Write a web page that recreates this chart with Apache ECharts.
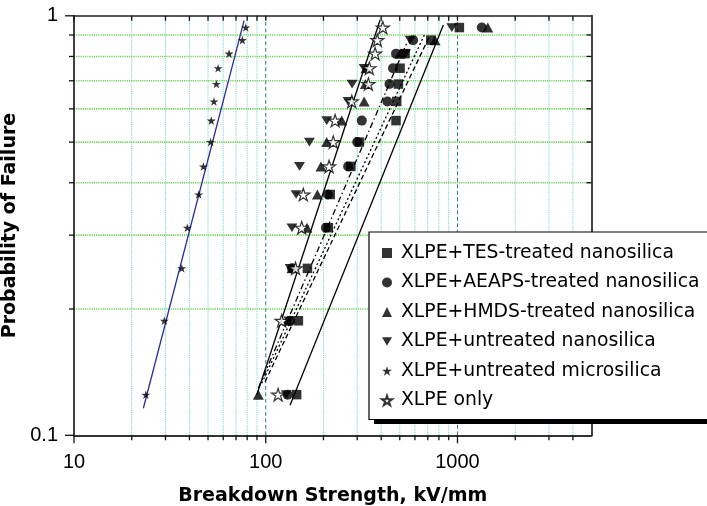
<!DOCTYPE html>
<html>
<head>
<meta charset="utf-8">
<script src="https://cdn.jsdelivr.net/npm/echarts@6/dist/echarts.min.js"></script>
<style>
  html, body { margin: 0; padding: 0; background: #fff; }
  #chart { width: 707px; height: 506px; }
</style>
</head>
<body>
<div id="chart"></div>
<script>
// Failure probability of each ranked specimen (rank / (n + 1), n = 15)
const failureProbability = [0.125, 0.1875, 0.25, 0.3125, 0.375, 0.4375, 0.5, 0.5625, 0.625, 0.6875, 0.75, 0.8125, 0.875, 0.9375];

// Breakdown strengths (kV/mm), sorted ascending, one per probability rank
const tesNanosilica       = [145, 148, 165, 212, 217, 278, 308, 478, 482, 492, 502, 533, 726, 1023];
const aeapsNanosilica     = [130, 134, 137, 206, 211, 269, 300, 317, 431, 442, 461, 478, 587, 1339];
const hmdsNanosilica      = [91.5, 130, 137, 164, 186, 194, 208, 249, 326, 331, 333, 502, 764, 1439];
const untreatedNanosilica = [128, 132, 134, 137, 144, 150, 169, 208, 269, 282, 326, 536, 566, 934];
const untreatedMicrosilica = [23.7, 29.6, 36.5, 39.0, 44.7, 47.3, 51.6, 52.0, 53.7, 55.3, 56.4, 64.4, 75.5, 78.7];
const xlpeOnly            = [116, 121, 143, 154, 157, 214, 225, 230, 281, 343, 347, 372, 382, 408];

// Fitted distribution lines: [strength, probability] end points
const fitMicrosilica = [[23.0, 0.116], [77.1, 0.9735]];
const fitXlpeOnly    = [[89.8, 0.1248], [394.8, 0.977]];
const fitUntreated   = [[91.5, 0.1294], [547.9, 0.868]];
const fitHmds        = [[95.3, 0.133], [677.6, 0.908]];
const fitAeaps       = [[99.2, 0.1342], [719.5, 0.900]];
const fitTes         = [[133.9, 0.118], [843.9, 0.951]];

// Axis ranges and tick values
const xRange = [10, 5000];
const yRange = [0.1, 1];
const xDecadeTicks = [10, 100, 1000];
const xMinorTicks = [20, 30, 40, 50, 60, 70, 80, 90, 200, 300, 400, 500, 600, 700, 800, 900, 2000, 3000, 4000];
const yDecadeTicks = [0.1, 1];
const yMinorTicks = [0.2, 0.3, 0.4, 0.5, 0.6, 0.7, 0.8, 0.9];

const legendNames = [
  'XLPE+TES-treated nanosilica',
  'XLPE+AEAPS-treated nanosilica',
  'XLPE+HMDS-treated nanosilica',
  'XLPE+untreated nanosilica',
  'XLPE+untreated microsilica',
  'XLPE only'
];

const NUM_FONT = '"Liberation Sans", Arial, Helvetica, sans-serif';
const TEXT_FONT = '"DejaVu Sans", "Liberation Sans", Arial, sans-serif';
const STAR = 'path://M50,0L61.2,34.5L97.6,34.5L68.2,55.9L79.4,90.5L50,69.1L20.6,90.5L31.8,55.9L2.4,34.5L38.8,34.5Z';
const DOWN_TRIANGLE = 'path://M0,0L10,0L5,8.66Z';

const withProbability = vals => vals.map((v, i) => [v, failureProbability[i]]);

// Grid lines: kind 0 = minor vertical, 1 = decade vertical, 2 = horizontal
const gridLineData = []
  .concat(xMinorTicks.map(v => [v, yRange[0], 0]))
  .concat(xDecadeTicks.filter(v => v > xRange[0]).map(v => [v, yRange[0], 1]))
  .concat(yMinorTicks.map(f => [xRange[0], f, 2]));

// Tick marks: kind 0 = minor x, 1 = decade x, 2 = minor y, 3 = decade y
const tickData = []
  .concat(xMinorTicks.map(v => [v, yRange[0], 0]))
  .concat(xDecadeTicks.map(v => [v, yRange[0], 1]))
  .concat(yMinorTicks.map(f => [xRange[0], f, 2]))
  .concat(yDecadeTicks.map(f => [xRange[0], f, 3]));

function line(x1, y1, x2, y2, style) {
  return { type: 'line', shape: { x1, y1, x2, y2 }, style };
}

function renderGrid(params, api) {
  const kind = api.value(2);
  if (kind === 2) {
    const f = api.value(1);
    const a = api.coord([xRange[0], f]);
    const b = api.coord([xRange[1], f]);
    return line(a[0], a[1], b[0], b[1], { stroke: '#6fd05a', lineWidth: 1.6, lineDash: [1.2, 1] });
  }
  const v = api.value(0);
  const a = api.coord([v, yRange[0]]);
  const b = api.coord([v, yRange[1]]);
  if (kind === 1) {
    return line(a[0], a[1], b[0], b[1], { stroke: '#1f7f7a', lineWidth: 1, lineDash: [4, 2.5] });
  }
  return line(a[0], a[1], b[0], b[1], { stroke: '#74d6cf', lineWidth: 1, lineDash: [1.2, 1] });
}

function renderTicks(params, api) {
  const kind = api.value(2);
  const st = { stroke: '#111', lineWidth: 1.3 };
  if (kind <= 1) {
    const v = api.value(0);
    const lo = api.coord([v, yRange[0]]);
    const hi = api.coord([v, yRange[1]]);
    const len = kind === 1 ? 8 : 5;
    return {
      type: 'group',
      children: [
        line(lo[0], lo[1], lo[0], lo[1] + len, st),
        line(hi[0], hi[1], hi[0], hi[1] + 5, st)
      ]
    };
  }
  const f = api.value(1);
  const l = api.coord([xRange[0], f]);
  const r = api.coord([xRange[1], f]);
  const len = kind === 3 ? 9 : 5;
  const children = [line(l[0] - len, l[1], l[0], l[1], st)];
  if (kind === 2) children.push(line(r[0] - 5, r[1], r[0], r[1], st));
  return { type: 'group', children };
}

function fitSeries(name, points, color, dash) {
  return {
    name, type: 'line', data: points, symbol: 'none', z: 3, silent: true,
    lineStyle: { color, width: 1.3, type: dash }
  };
}

function scatterSeries(name, vals, symbol, size, itemStyle, z) {
  return {
    name, type: 'scatter', data: withProbability(vals), symbol, symbolSize: size,
    symbolKeepAspect: true, itemStyle, z
  };
}

const black = { color: '#000' };

const option = {
  animation: false,
  backgroundColor: '#fff',
  textStyle: { fontFamily: NUM_FONT },
  grid: { left: 74, right: 115.5, top: 15.8, bottom: 70.7, containLabel: false, outerBoundsMode: 'none' },
  // Drop shadow under the legend box
  graphic: [
    { type: 'rect', left: 374, top: 237, z: 40, shape: { width: 400, height: 187 }, style: { fill: '#000' }, silent: true }
  ],
  xAxis: [
    {
      type: 'log', logBase: 10, min: xRange[0], max: xRange[1], z: 5,
      name: 'Breakdown Strength, kV/mm', nameLocation: 'middle', nameGap: 51,
      nameTextStyle: { fontFamily: TEXT_FONT, fontSize: 19, fontWeight: 'bold', color: '#000' },
      axisLine: { show: true, lineStyle: { color: '#333', width: 2 } },
      axisTick: { show: false },
      splitLine: { show: false },
      minorTick: { show: false },
      axisLabel: {
        fontFamily: NUM_FONT, fontSize: 20, color: '#000', margin: 17,
        showMaxLabel: false,
        formatter: v => (xDecadeTicks.some(t => Math.abs(t - v) < 1e-6 * t) ? String(Math.round(v)) : '')
      }
    },
    {
      type: 'log', logBase: 10, min: xRange[0], max: xRange[1], position: 'top', z: 5,
      axisLine: { show: true, lineStyle: { color: '#222', width: 1.6 } },
      axisTick: { show: false }, axisLabel: { show: false }, splitLine: { show: false }
    }
  ],
  yAxis: [
    {
      type: 'log', logBase: 10, min: yRange[0], max: yRange[1], z: 5,
      name: 'Probability of Failure', nameLocation: 'middle', nameGap: 47, nameRotate: 90,
      nameTextStyle: { fontFamily: TEXT_FONT, fontSize: 19, fontWeight: 'bold', color: '#000' },
      axisLine: { show: true, lineStyle: { color: '#111', width: 1.6 } },
      axisTick: { show: false },
      splitLine: { show: false },
      axisLabel: {
        fontFamily: NUM_FONT, fontSize: 20, color: '#000', margin: 16,
        formatter: v => String(parseFloat(Number(v).toPrecision(3)))
      }
    },
    {
      type: 'log', logBase: 10, min: yRange[0], max: yRange[1], position: 'right', z: 5,
      axisLine: { show: true, lineStyle: { color: '#444', width: 2 } },
      axisTick: { show: false }, axisLabel: { show: false }, splitLine: { show: false }
    }
  ],
  legend: {
    data: [
      { name: legendNames[0], icon: 'rect' },
      { name: legendNames[1], icon: 'circle' },
      { name: legendNames[2], icon: 'triangle' },
      { name: legendNames[3], icon: DOWN_TRIANGLE },
      { name: legendNames[4], icon: STAR },
      { name: legendNames[5], icon: STAR }
    ],
    z: 50,
    orient: 'vertical', left: 369, top: 232,
    itemWidth: 10, itemHeight: 10, itemGap: 9.5,
    padding: [11, 60, 9, 12],
    backgroundColor: '#fff', borderColor: '#000', borderWidth: 1.2, borderRadius: 0,
    selectedMode: false,
    textStyle: { fontFamily: TEXT_FONT, fontSize: 18.8, color: '#000', lineHeight: 20, padding: [0, 0, 0, 4] }
  },
  series: [
    {
      name: 'grid-lines', type: 'custom', renderItem: renderGrid, data: gridLineData,
      encode: { x: 0, y: 1 }, z: 1, silent: true, clip: false
    },
    fitSeries('fit-micro', fitMicrosilica, '#2b2b9a', 'solid'),
    fitSeries('fit-xlpe', fitXlpeOnly, '#000', 'solid'),
    fitSeries('fit-untreated', fitUntreated, '#000', [6, 3, 1.5, 3]),
    fitSeries('fit-hmds', fitHmds, '#000', [2, 2.5]),
    fitSeries('fit-aeaps', fitAeaps, '#000', [5, 3]),
    fitSeries('fit-tes', fitTes, '#000', 'solid'),
    scatterSeries(legendNames[3], untreatedNanosilica, DOWN_TRIANGLE, [11, 10], black, 4),
    scatterSeries(legendNames[2], hmdsNanosilica, 'triangle', [11, 10], black, 5),
    scatterSeries(legendNames[1], aeapsNanosilica, 'circle', 10, black, 6),
    scatterSeries(legendNames[0], tesNanosilica, 'rect', 9.5, black, 7),
    scatterSeries(legendNames[4], untreatedMicrosilica, STAR, 9, black, 8),
    scatterSeries(legendNames[5], xlpeOnly, STAR, 13, { color: '#fff', borderColor: '#000', borderWidth: 1.2 }, 9),
    {
      name: 'tick-marks', type: 'custom', renderItem: renderTicks, data: tickData,
      encode: { x: 0, y: 1 }, z: 10, silent: true, clip: false
    }
  ]
};

const chart = echarts.init(document.getElementById('chart'), null, { renderer: 'canvas' });
chart.setOption(option);
</script>
</body>
</html>
